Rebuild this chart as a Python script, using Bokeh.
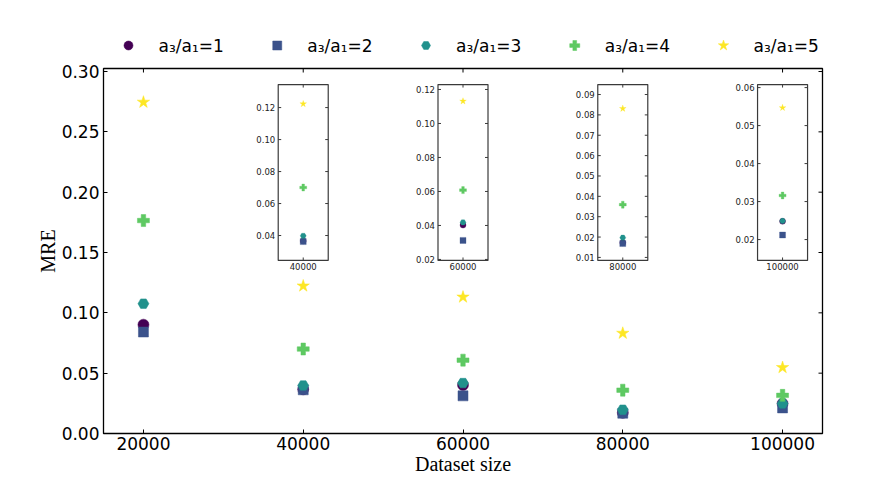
import numpy as np
from bokeh.plotting import figure
from bokeh.layouts import column
from bokeh.models import Range1d, FixedTicker, PrintfTickFormatter
from bokeh.embed import file_html
from bokeh.resources import INLINE

# ---------------- data ----------------
sizes = [20000, 40000, 60000, 80000, 100000]
ratio1 = [0.0902, 0.0366, 0.0402, 0.0172, 0.0248]
ratio2 = [0.0841, 0.0362, 0.0312, 0.0168, 0.0212]
ratio3 = [0.1076, 0.0398, 0.0418, 0.0197, 0.0249]
ratio4 = [0.1765, 0.0700, 0.0608, 0.0359, 0.0316]
ratio5 = [0.2746, 0.1223, 0.1131, 0.0831, 0.0547]
series = [ratio1, ratio2, ratio3, ratio4, ratio5]
labels = ["a₃/a₁=1", "a₃/a₁=2", "a₃/a₁=3", "a₃/a₁=4", "a₃/a₁=5"]
colors = ["#440154", "#3b528b", "#21918c", "#5ec962", "#fde725"]
markers = ["circle", "square", "hex", "plus", "star"]
main_sizes = [11, 10, 11, 12, 13]
inset_sizes = [6, 6, 6, 7, 7]
legend_sizes = [9, 9, 9, 10, 11]

y_ticks = [0.00, 0.05, 0.10, 0.15, 0.20, 0.25, 0.30]

# inset definitions (index into sizes, y limits, y ticks)
inset_index = [1, 2, 3, 4]
inset_ylims = [(0.0244, 0.1344), (0.0194, 0.1229), (0.0085, 0.0949), (0.0145, 0.0608)]
inset_yticks = [
    [0.04, 0.06, 0.08, 0.10, 0.12],
    [0.02, 0.04, 0.06, 0.08, 0.10, 0.12],
    [0.01, 0.02, 0.03, 0.04, 0.05, 0.06, 0.07, 0.08, 0.09],
    [0.02, 0.03, 0.04, 0.05, 0.06],
]

# layout constants
X_RANGE = (15000, 105000)
Y_RANGE = (0.0, 0.3025)
INSET_HALF_W = 3130          # half width of an inset in main x units
INSET_TARGET_Y = (0.1434, 0.2892)   # inset box position in main y units
FRAME_W = 719
LEG_H = 58
LEG_X0, LEG_STEP, LEG_Y, LEG_TEXT_DX = 25, 148.75, 13, 30

FONT = "DejaVu Sans"
SERIF = "Liberation Serif"

# ---------------- legend strip (pixel-unit ranges) ----------------
leg = figure(width=864, height=LEG_H, x_range=Range1d(0, FRAME_W),
             y_range=Range1d(0, LEG_H), output_backend="svg",
             toolbar_location=None, min_border_left=103, min_border_right=42,
             min_border_top=0, min_border_bottom=0,
             x_axis_type=None, y_axis_type=None, outline_line_color=None,
             background_fill_color="white", border_fill_color="white")
for i, (lab, col, mk, sz) in enumerate(zip(labels, colors, markers, legend_sizes)):
    mx = LEG_X0 + i * LEG_STEP
    leg.scatter(x=[mx], y=[LEG_Y], marker=mk, size=sz, fill_color=col,
                line_color=col, line_width=0.5)
    leg.text(x=[mx + LEG_TEXT_DX], y=[LEG_Y], text=[lab], text_align="left",
             text_baseline="middle", text_font_size="17px",
             text_font={"value": FONT}, text_color="black")

# ---------------- main figure ----------------
p = figure(width=864, height=430,
           x_range=Range1d(*X_RANGE), y_range=Range1d(*Y_RANGE),
           output_backend="svg", toolbar_location=None,
           min_border_left=103, min_border_right=42, min_border_top=10,
           min_border_bottom=55, background_fill_color="white",
           border_fill_color="white")
p.xgrid.visible = False
p.ygrid.visible = False
p.outline_line_color = "black"
p.outline_line_width = 1.3

xax = p.xaxis[0]
yax = p.yaxis[0]
xax.ticker = FixedTicker(ticks=sizes)
xax.formatter = PrintfTickFormatter(format="%d")
yax.ticker = FixedTicker(ticks=y_ticks)
yax.formatter = PrintfTickFormatter(format="%.2f")
for ax in (xax, yax):
    ax.axis_line_color = None
    ax.major_tick_in = 4
    ax.major_tick_out = 0
    ax.major_tick_line_color = "black"
    ax.major_tick_line_width = 1
    ax.minor_tick_line_color = None
    ax.major_label_text_font = FONT
    ax.major_label_text_color = "black"
    ax.major_label_text_font_size = "17px"
    ax.axis_label_text_font = SERIF
    ax.axis_label_text_font_size = "20px"
    ax.axis_label_text_font_style = "normal"
    ax.axis_label_text_color = "black"
xax.major_label_standoff = 3
yax.major_label_standoff = 4
xax.axis_label = "Dataset size"
yax.axis_label = "MRE"
xax.axis_label_standoff = 0
yax.axis_label_standoff = 0

# mirrored inward ticks on the top and right edges
p.ray(x=sizes, y=[Y_RANGE[1]] * len(sizes), length=4, length_units="screen",
      angle=-np.pi / 2, line_color="black", line_width=1)
p.ray(x=[X_RANGE[1]] * len(y_ticks), y=y_ticks, length=4, length_units="screen",
      angle=np.pi, line_color="black", line_width=1)

# ---------------- main scatter ----------------
for vals, col, mk, sz in zip(series, colors, markers, main_sizes):
    p.scatter(x=sizes, y=vals, marker=mk, size=sz, fill_color=col,
              line_color=col, line_width=0.5)

# ---------------- insets (each one gets its own extra y range) ----------------
t0, t1 = INSET_TARGET_Y
for k, idx in enumerate(inset_index):
    xv = sizes[idx]
    lo, hi = inset_ylims[k]
    ticks = inset_yticks[k]
    n = len(ticks)
    s = (hi - lo) / (t1 - t0)
    name = "inset%d" % k
    p.extra_y_ranges[name] = Range1d(start=lo - (t0 - Y_RANGE[0]) * s,
                                     end=hi + (Y_RANGE[1] - t1) * s)
    kw = dict(y_range_name=name)
    p.quad(left=[xv - INSET_HALF_W], right=[xv + INSET_HALF_W],
           bottom=[lo], top=[hi], fill_color="white",
           line_color="#3a3a3a", line_width=1.2, **kw)
    p.ray(x=[xv - INSET_HALF_W] * n, y=ticks, length=3, length_units="screen",
          angle=0, line_color="#3a3a3a", line_width=1, **kw)
    p.ray(x=[xv + INSET_HALF_W] * n, y=ticks, length=3, length_units="screen",
          angle=np.pi, line_color="#3a3a3a", line_width=1, **kw)
    p.ray(x=[xv], y=[lo], length=3, length_units="screen", angle=np.pi / 2,
          line_color="#3a3a3a", line_width=1, **kw)
    p.ray(x=[xv], y=[hi], length=3, length_units="screen", angle=-np.pi / 2,
          line_color="#3a3a3a", line_width=1, **kw)
    p.text(x=[xv - INSET_HALF_W] * n, y=ticks, text=["%.2f" % t for t in ticks],
           x_offset=-3, text_align="right", text_baseline="middle",
           text_font_size="8.5px", text_font={"value": FONT},
           text_color="#222222", **kw)
    p.text(x=[xv], y=[lo], text=[str(xv)], y_offset=3, text_align="center",
           text_baseline="top", text_font_size="8.5px", text_font={"value": FONT},
           text_color="#222222", **kw)
    for vals, col, mk, sz in zip(series, colors, markers, inset_sizes):
        p.scatter(x=[xv], y=[vals[idx]], marker=mk, size=sz, fill_color=col,
                  line_color=col, line_width=0.3, **kw)

layout = column(leg, p, spacing=0)
open("out.html", "w").write(file_html(layout, INLINE))
